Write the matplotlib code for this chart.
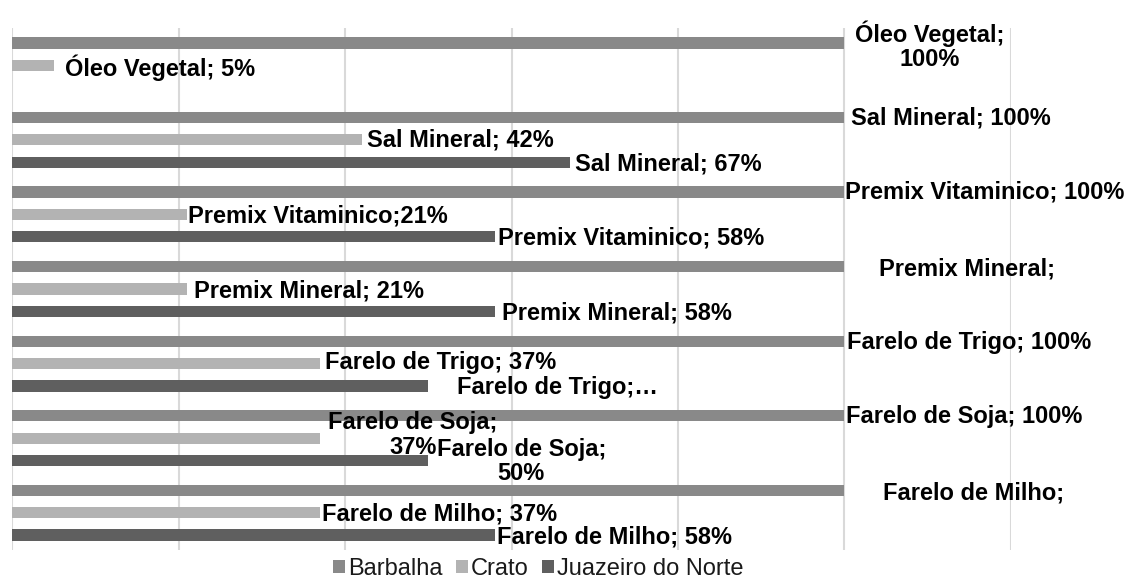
import matplotlib
matplotlib.use('Agg')
import matplotlib.pyplot as plt
import numpy as np

plt.rcParams['font.family'] = ['Liberation Sans', 'DejaVu Sans']

# data (top to bottom)
categories = ['Óleo Vegetal', 'Sal Mineral', 'Premix Vitaminico', 'Premix Mineral',
              'Farelo de Trigo', 'Farelo de Soja', 'Farelo de Milho']
seriesNames = ['Barbalha', 'Crato', 'Juazeiro do Norte']
barbalha = [100, 100, 100, 100, 100, 100, 100]
crato = [5, 42, 21, 21, 37, 37, 37]
juazeiro = [None, 67, 58, 58, 50, 50, 58]
colors = ['#898989', '#b3b3b3', '#5f5f5f']

# label texts as shown on the chart (Excel data labels, some wrapped / cut)
labelsBarbalha = ['Óleo Vegetal;\n100%', 'Sal Mineral; 100%', 'Premix Vitaminico; 100%',
                  'Premix Mineral;', 'Farelo de Trigo; 100%', 'Farelo de Soja; 100%',
                  'Farelo de Milho;']
labelsCrato = ['Óleo Vegetal; 5%', 'Sal Mineral; 42%', 'Premix Vitaminico;21%',
               'Premix Mineral; 21%', 'Farelo de Trigo; 37%', 'Farelo de Soja;\n37%',
               'Farelo de Milho; 37%']
labelsJuazeiro = [None, 'Sal Mineral; 67%', 'Premix Vitaminico; 58%', 'Premix Mineral; 58%',
                  'Farelo de Trigo;…', 'Farelo de Soja;\n50%', 'Farelo de Milho; 58%']

# label offsets from bar end in pixels (dx, dy, ha)
offsBarbalha = [(85, -3, 'center'), (7, -1, 'left'), (1, 0, 'left'), (123, -2, 'center'),
                (3, -1, 'left'), (2, -1, 'left'), (129, -3, 'center')]
offsCrato = [(11, -2, 'left'), (5, 0, 'left'), (1, -2, 'left'), (7, -2, 'left'),
             (5, 1, 'left'), (93, 3, 'center'), (2, -1, 'left')]
offsJuazeiro = [None, (5, -2, 'left'), (3, -1, 'left'), (7, -2, 'left'),
                (29, -2, 'left'), (93, -1, 'center'), (2, -2, 'left')]

W, H = 1131, 579
fig = plt.figure(figsize=(W / 100, H / 100), dpi=100)
ax = fig.add_axes([12 / W, 1 - 550 / H, (1011 - 12) / W, 522 / H])

y = np.arange(len(categories))
shift = [-0.3, 0.0, 0.3]
allValues = [barbalha, crato, juazeiro]
allLabels = [labelsBarbalha, labelsCrato, labelsJuazeiro]
allOffs = [offsBarbalha, offsCrato, offsJuazeiro]

for s in range(3):
    vals = allValues[s]
    ys = [y[i] + shift[s] for i in range(len(vals)) if vals[i] is not None]
    vs = [vals[i] / 100 for i in range(len(vals)) if vals[i] is not None]
    ax.barh(ys, vs, height=0.15, color=colors[s], label=seriesNames[s], zorder=3)
    for i in range(len(vals)):
        if vals[i] is None or allLabels[s][i] is None:
            continue
        dx, dy, ha = allOffs[s][i]
        ax.annotate(allLabels[s][i], xy=(vals[i] / 100, y[i] + shift[s]),
                    xytext=(dx, dy), textcoords='offset pixels',
                    ha=ha, va='center', fontsize=17, fontweight='bold',
                    color='black', linespacing=1.08, annotation_clip=False, zorder=5)

ax.set_xlim(0, 1.2)
ax.set_ylim(len(categories) - 0.5, -0.5)
ax.set_xticks(np.arange(0, 1.21, 0.2))
ax.set_yticks([])
ax.tick_params(axis='x', length=0, labelbottom=False)
ax.grid(axis='x', color='#d9d9d9', linewidth=1.5, zorder=0)
for sp in ax.spines.values():
    sp.set_visible(False)

fig.legend(loc='center', bbox_to_anchor=(0.476, 1 - 569 / H), ncol=3, frameon=False,
           fontsize=17, handlelength=0.5, handleheight=0.5, handletextpad=0.15,
           columnspacing=0.55, borderpad=0, labelcolor='#1a1a1a')

fig.savefig('out.png', dpi=100)
